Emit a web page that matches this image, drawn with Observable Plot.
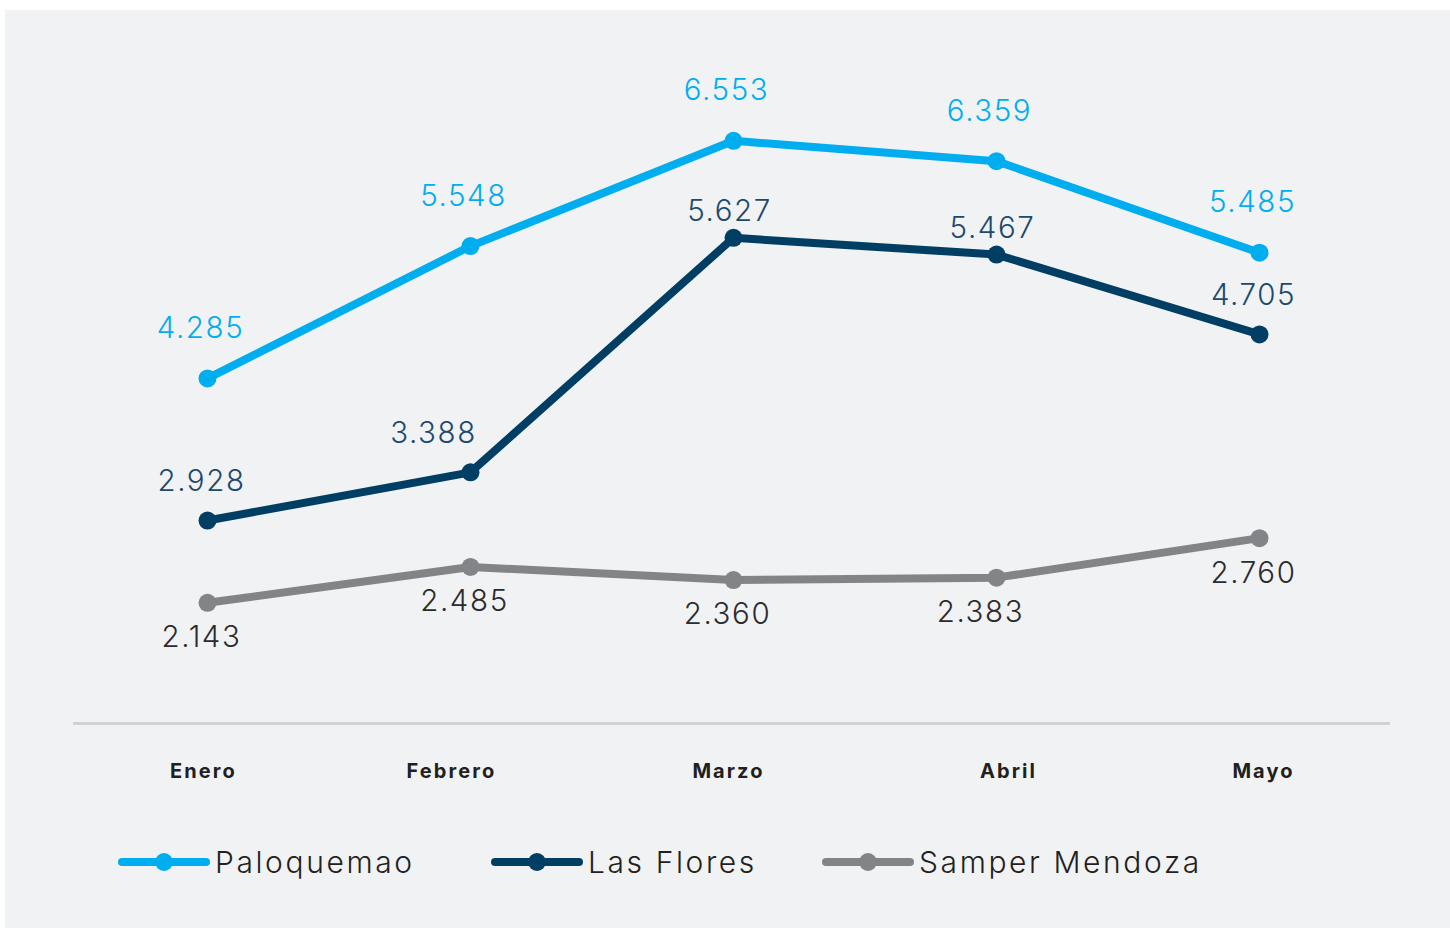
<!DOCTYPE html>
<html>
<head>
<meta charset="utf-8">
<script src="https://cdn.jsdelivr.net/npm/d3@7"></script>
<script src="https://cdn.jsdelivr.net/npm/@observablehq/plot@0.6"></script>
<style>
  html, body { margin: 0; padding: 0; background: #ffffff; }
  #panel { position: absolute; left: 5px; top: 10px; width: 1445px; height: 918px; background: #f1f2f4; font-family: Inter, "Noto Sans", sans-serif; }
  #chart { position: absolute; left: 0; top: 0; }
  #legend { position: absolute; left: 0; top: 826px; width: 1445px; height: 52px; }
  .item { position: absolute; top: 0; display: flex; align-items: center; height: 52px; }
  .item span { font-size: 30px; font-weight: 300; color: #231f20; margin-left: 4px; letter-spacing: 2.6px; }
  .vlabel text { letter-spacing: 1.6px; }
  .mlabel text { letter-spacing: 2.1px; }
</style>
</head>
<body>
<div id="panel">
  <div id="chart"></div>
  <div id="legend"></div>
</div>
<script>
const months = ["Enero", "Febrero", "Marzo", "Abril", "Mayo"];
const seriesNames = ["Paloquemao", "Las Flores", "Samper Mendoza"];
const paloquemao = [4.285, 5.548, 6.553, 6.359, 5.485];
const lasFlores = [2.928, 3.388, 5.627, 5.467, 4.705];
const samperMendoza = [2.143, 2.485, 2.360, 2.383, 2.760];

const lineColors = {"Paloquemao": "#00aeef", "Las Flores": "#003f63", "Samper Mendoza": "#838487"};
const labelColors = {"Paloquemao": "#00aeef", "Las Flores": "#1d4a6c", "Samper Mendoza": "#2b2b2d"};

const valuesBySeries = {"Paloquemao": paloquemao, "Las Flores": lasFlores, "Samper Mendoza": samperMendoza};
const data = seriesNames.flatMap(s => months.map((m, i) => ({series: s, month: m, value: valuesBySeries[s][i]})));

const fmt = v => v.toFixed(3);

function labels(series, dy, dx, filter) {
  return Plot.text(data.filter(d => d.series === series && (!filter || filter(d))), {
    x: "month", y: "value", text: d => fmt(d.value), className: "vlabel",
    dy, dx, fill: labelColors[series], fontSize: 29.5, fontWeight: 300,
    textAnchor: "middle", lineAnchor: "middle"
  });
}

// small horizontal nudges of the month labels (style only)
const monthNudge = {"Enero": -5, "Febrero": -20, "Marzo": -6, "Abril": 11, "Mayo": 3};
const monthMarks = months.map(m => Plot.text([m], {
  x: d => d, frameAnchor: "bottom", dy: 48, dx: monthNudge[m] + 1, className: "mlabel",
  fontSize: 20, fontWeight: 700, fill: "#231f20", textAnchor: "middle", lineAnchor: "middle"
}));

const chart = Plot.plot({
  width: 1445,
  height: 800,
  marginLeft: 68,
  marginRight: 60,
  marginTop: 0,
  marginBottom: 87,
  style: {background: "transparent", fontFamily: "Inter, 'Noto Sans', sans-serif"},
  x: {type: "point", domain: months, range: [201, 1254], padding: 0, axis: null},
  y: {domain: [1, 7], range: [712, 83.5], axis: null},
  marks: [
    Plot.ruleY([1], {stroke: "#d1d2d4", strokeWidth: 3, dy: 1}),
    ...monthMarks,
    Plot.line(data, {x: "month", y: "value", z: "series", stroke: d => lineColors[d.series], strokeWidth: 8, strokeLinejoin: "round"}),
    Plot.dot(data, {x: "month", y: "value", fill: d => lineColors[d.series], r: 9}),
    labels("Paloquemao", -50, -7),
    labels("Las Flores", -39, -6, d => d.month !== "Marzo" && d.month !== "Abril" && d.month !== "Febrero"),
    labels("Las Flores", -39, -37, d => d.month === "Febrero"),
    labels("Las Flores", -26, -4, d => d.month === "Marzo" || d.month === "Abril"),
    labels("Samper Mendoza", 35, -6, d => d.month !== "Abril"),
    labels("Samper Mendoza", 35, -16, d => d.month === "Abril")
  ]
});
document.getElementById("chart").appendChild(chart);

// legend
const legendLeft = {"Paloquemao": 112, "Las Flores": 485, "Samper Mendoza": 816};
const legend = document.getElementById("legend");
for (const s of seriesNames) {
  const item = document.createElement("div");
  item.className = "item";
  item.style.left = legendLeft[s] + "px";
  const sw = d3.create("svg").attr("width", 94).attr("height", 24);
  sw.append("line").attr("x1", 5).attr("x2", 89).attr("y1", 12).attr("y2", 12)
    .attr("stroke", lineColors[s]).attr("stroke-width", 8).attr("stroke-linecap", "round");
  sw.append("circle").attr("cx", 47).attr("cy", 12).attr("r", 9).attr("fill", lineColors[s]);
  item.appendChild(sw.node());
  const t = document.createElement("span");
  t.textContent = s;
  item.appendChild(t);
  legend.appendChild(item);
}
</script>
</body>
</html>
